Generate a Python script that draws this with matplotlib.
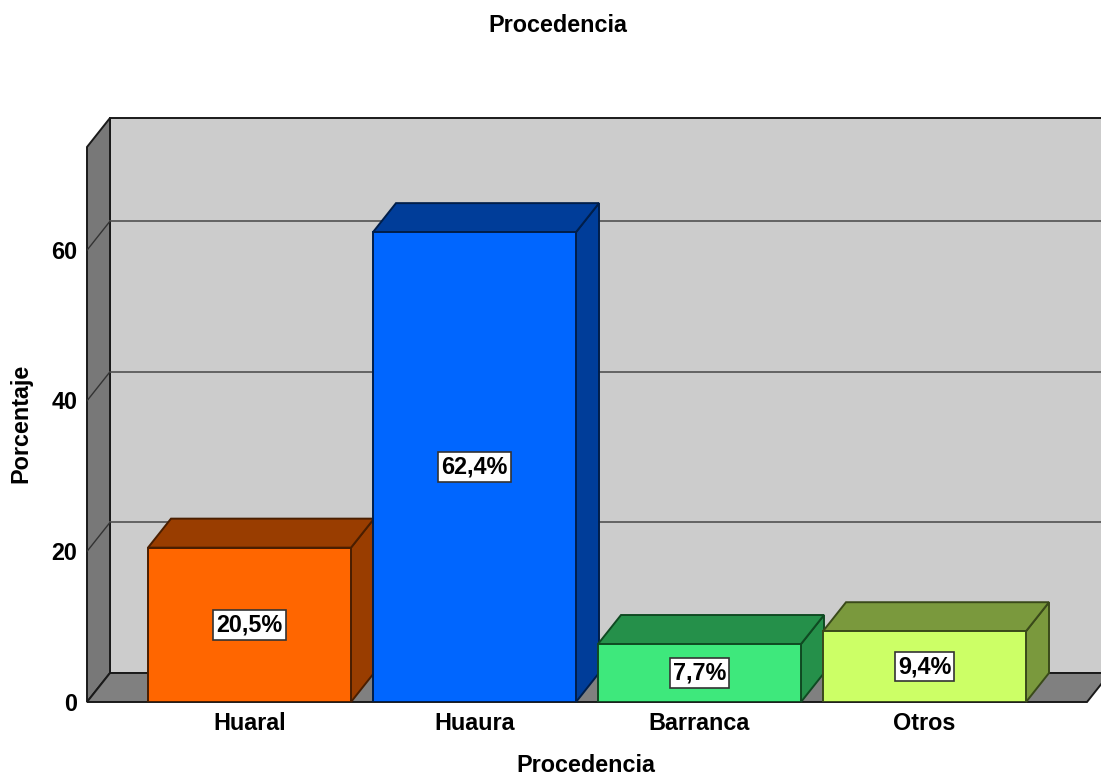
import matplotlib
matplotlib.use('Agg')
import matplotlib.pyplot as plt
from matplotlib.patches import Polygon

categories = ['Huaral', 'Huaura', 'Barranca', 'Otros']
values = [20.5, 62.4, 7.7, 9.4]
labels = ['20,5%', '62,4%', '7,7%', '9,4%']
front_colors = ['#FF6600', '#0066FF', '#3EE87C', '#CCFF66']
top_colors = ['#993D00', '#003D99', '#25904A', '#7A993D']
edge_colors = ['#4A1E00', '#001E4A', '#0F4A22', '#3A4A1A']
y_ticks = [0, 20, 40, 60]

W, H = 1101, 776
plt.rcParams['font.family'] = ['Liberation Sans', 'DejaVu Sans']
plt.rcParams['font.size'] = 16.8
plt.rcParams['font.weight'] = 'bold'

fig = plt.figure(figsize=(W / 100, H / 100), dpi=100)
# axes = front plane of the 3D box, in pixels from the picture
left, right, top, bottom = 87, 1101, 147, 702
ax = fig.add_axes([left / W, 1 - bottom / H, (right - left) / W, (bottom - top) / H])
ax.set_xlim((left - 249.5) / 225, (right - 249.5) / 225)
ax.set_ylim(0, (bottom - top) / 7.53)
ax.axis('off')

# depth of the fake 3D
dx = 23 / 225
dy = 29 / 7.53
bar_w = 203 / 225
x0, x1 = ax.get_xlim()
ytop = ax.get_ylim()[1]
floor_end = (1087 - 249.5) / 225
edge = '#1a1a1a'


def poly(pts, color, lw=1.4, z=1, ec=edge):
    ax.add_patch(Polygon(pts, closed=True, fc=color, ec=ec, lw=lw, zorder=z, clip_on=False))


# walls and floor
poly([(x0 + dx, dy), (x1 + dx, dy), (x1 + dx, ytop + dy), (x0 + dx, ytop + dy)], '#CCCCCC', z=1)
poly([(x0, 0), (x0 + dx, dy), (x0 + dx, ytop + dy), (x0, ytop)], '#787878', z=2)
poly([(x0, 0), (floor_end, 0), (floor_end + dx, dy), (x0 + dx, dy)], '#808080', z=2)

for t in y_ticks[1:]:
    ax.plot([x0 + dx, x1 + dx], [t + dy, t + dy], color='#5a5a5a', lw=1.3, zorder=2, clip_on=False)
    ax.plot([x0, x0 + dx], [t, t + dy], color='#333333', lw=1, zorder=3)
for t in y_ticks:
    ax.annotate(str(t), (x0, t), xytext=(-7, -1.5), textcoords='offset points',
                ha='right', va='center', zorder=6, annotation_clip=False)

for i, cat in enumerate(categories):
    v = values[i]
    l, r = i - bar_w / 2, i + bar_w / 2
    poly([(r, 0), (r + dx, dy), (r + dx, v + dy), (r, v)], top_colors[i], z=4, ec=edge_colors[i])
    poly([(l, v), (r, v), (r + dx, v + dy), (l + dx, v + dy)], top_colors[i], z=4, ec=edge_colors[i])
    ax.bar(i, v, width=bar_w, color=front_colors[i], edgecolor=edge_colors[i], linewidth=1.4, zorder=5)
    ax.text(i, v / 2, labels[i], ha='center', va='center', zorder=7, clip_on=False,
            bbox=dict(boxstyle='square,pad=0.14', fc='white', ec='#333333', lw=1.2))
    ax.text(i, -2.8, cat, ha='center', va='center', clip_on=False)

fig.text(558 / W, 1 - 25 / H, 'Procedencia', ha='center', va='center')
fig.text(586 / W, 1 - 766 / H, 'Procedencia', ha='center', va='center')
fig.text(21 / W, 1 - 423 / H, 'Porcentaje', ha='center', va='center', rotation=90)

fig.savefig('out.png', dpi=100)
